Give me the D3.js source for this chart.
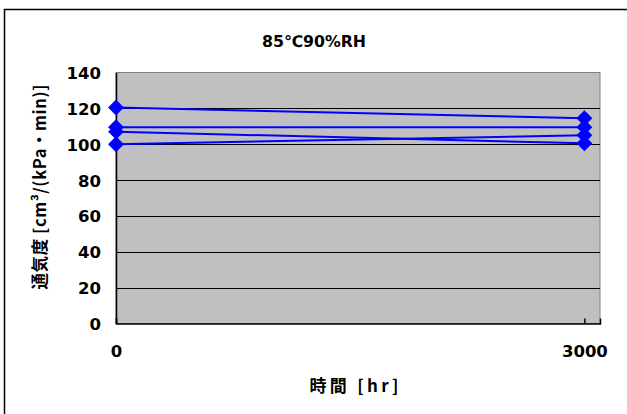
<!DOCTYPE html>
<html><head><meta charset="utf-8">
<script src="https://cdn.jsdelivr.net/npm/d3@7"></script>
<style>
html,body{margin:0;padding:0;background:#fff;}
text{font-family:"DejaVu Sans","Noto Sans CJK JP",sans-serif;font-weight:bold;fill:#000;}
</style></head>
<body>
<svg id="chart" width="627" height="414"></svg>
<script>
const title = "85℃90%RH";
const xLabel = "時間 [hr]";
const yLabel = "通気度 [cm³/(kPa・min)]";
const times = [0, 3000];
const series1 = [120.5, 114.5];
const series2 = [109.5, 109.5];
const series3 = [107, 100.5];
const series4 = [100, 105];
const yTicks = [0, 20, 40, 60, 80, 100, 120, 140];
const xTicks = [0, 3000];

const svg = d3.select("#chart");
svg.append("rect").attr("x", 4.5).attr("y", 9.5).attr("width", 700).attr("height", 500)
  .attr("fill", "#fff").attr("stroke", "#000").attr("stroke-width", 1.5);

const x = d3.scaleLinear().domain([0, 3100]).range([116, 600]);
const y = d3.scaleLinear().domain([0, 140]).range([323.5, 72.5]);

// plot background
svg.append("rect").attr("x", x(0)).attr("y", y(140)).attr("width", x(3100) - x(0))
  .attr("height", y(0) - y(140)).attr("fill", "#C0C0C0").attr("stroke", "#808080").attr("stroke-width", 1);

// gridlines
svg.append("g").selectAll("line").data(yTicks.filter(d => d > 0 && d < 140)).join("line")
  .attr("x1", x(0)).attr("x2", x(3100)).attr("y1", d => Math.round(y(d)) + 0.5).attr("y2", d => Math.round(y(d)) + 0.5)
  .attr("stroke", "#000").attr("stroke-width", 1);

// axes
const yAxis = svg.append("g").attr("transform", `translate(${x(0)},0)`)
  .call(d3.axisLeft(y).tickValues(yTicks).tickSize(0).tickPadding(15));
yAxis.select(".domain").attr("stroke", "#000").attr("stroke-width", 1.5);
yAxis.selectAll("text").attr("font-size", 16.5).style("font-family", "DejaVu Sans").attr("dy", "0.36em");

const xAxis = svg.append("g").attr("transform", `translate(0,${y(0)})`)
  .call(d3.axisBottom(x).tickValues(xTicks).tickSize(-5).tickPadding(22).tickFormat(d3.format("d")));
xAxis.select(".domain").attr("stroke", "#000").attr("stroke-width", 1.5);
xAxis.selectAll(".tick line").attr("stroke", "#000").attr("stroke-width", 1.5);
xAxis.selectAll("text").attr("font-size", 16.5).style("font-family", "DejaVu Sans");

// series
const allSeries = [series1, series2, series3, series4];
const line = d3.line().x((d, i) => x(times[i])).y(d => y(d));
svg.append("g").selectAll("path").data(allSeries).join("path")
  .attr("d", s => line(s)).attr("fill", "none").attr("stroke", "#0000FF").attr("stroke-width", 2);

const diamond = d3.symbol().type(d3.symbolDiamond2).size(160);
allSeries.forEach(s => {
  svg.append("g").selectAll("path").data(s).join("path")
    .attr("transform", (d, i) => `translate(${x(times[i])},${y(d)})`)
    .attr("d", diamond).attr("fill", "#0000FF");
});

// titles
svg.append("text").attr("x", 314).attr("y", 47).attr("text-anchor", "middle")
  .attr("font-size", 16).attr("textLength", 104).attr("lengthAdjust", "spacingAndGlyphs").text(title);
svg.append("text").attr("x", 354).attr("y", 392).attr("text-anchor", "middle")
  .attr("font-size", 17).style("font-family", "Noto Sans CJK JP")
  .attr("textLength", 89).attr("lengthAdjust", "spacing").text(xLabel);
svg.append("text").attr("transform", "translate(46,187) rotate(-90)").attr("text-anchor", "middle")
  .attr("font-size", 16.5).style("font-family", "Noto Sans CJK JP")
  .attr("textLength", 205).attr("lengthAdjust", "spacing").text(yLabel);
</script>
</body></html>
